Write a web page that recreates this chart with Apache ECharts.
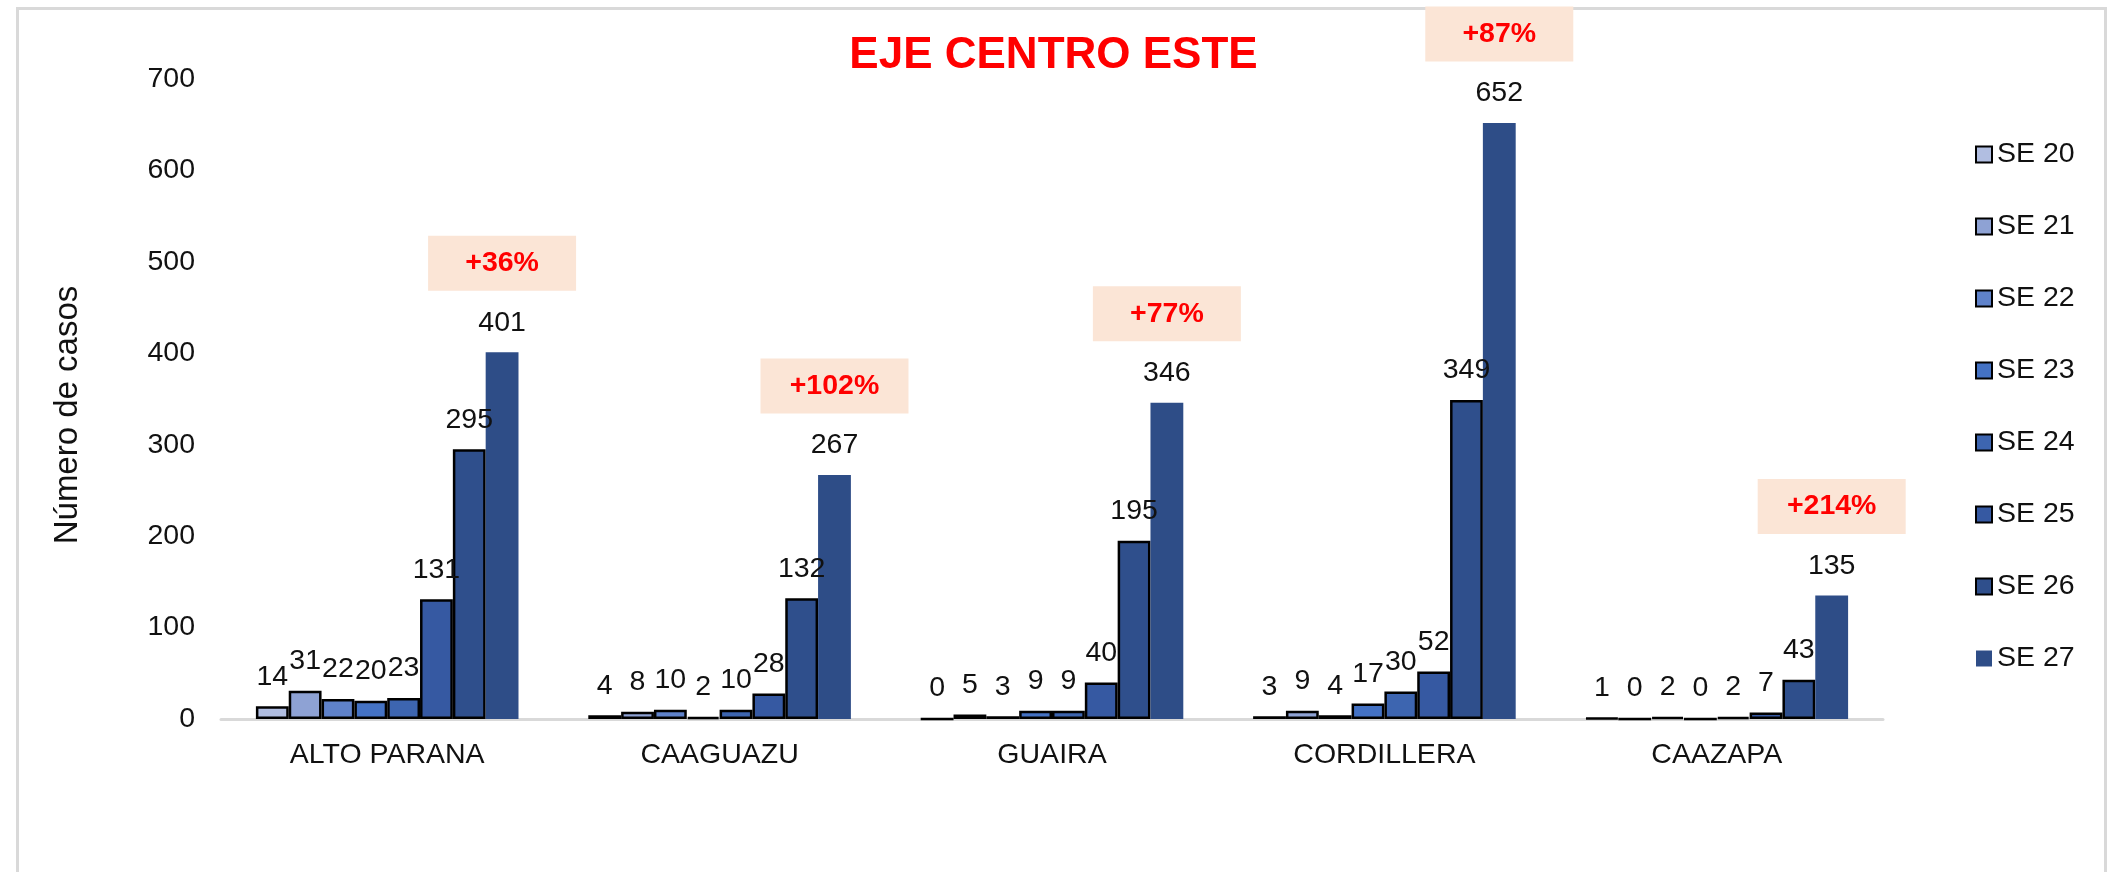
<!DOCTYPE html>
<html>
<head>
<meta charset="utf-8">
<title>EJE CENTRO ESTE</title>
<script src="https://cdn.jsdelivr.net/npm/echarts@6/dist/echarts.min.js"></script>
<style>
  html, body { margin: 0; padding: 0; background: #fff; }
  #chart { width: 2107px; height: 872px; }
</style>
</head>
<body>
<div id="chart"></div>
<script>
  // departamentos
  const categories = ['ALTO PARANA', 'CAAGUAZU', 'GUAIRA', 'CORDILLERA', 'CAAZAPA']
  // semanas epidemiologicas
  const weeks = ['SE 20', 'SE 21', 'SE 22', 'SE 23', 'SE 24', 'SE 25', 'SE 26', 'SE 27']
  const se20 = [14, 4, 0, 3, 1]
  const se21 = [31, 8, 5, 9, 0]
  const se22 = [22, 10, 3, 4, 2]
  const se23 = [20, 2, 9, 17, 0]
  const se24 = [23, 10, 9, 30, 2]
  const se25 = [131, 28, 40, 52, 7]
  const se26 = [295, 132, 195, 349, 43]
  const se27 = [401, 267, 346, 652, 135]
  // variacion SE 26 -> SE 27
  const changeLabels = ['+36%', '+102%', '+77%', '+87%', '+214%']
  const yTicks = [0, 100, 200, 300, 400, 500, 600, 700]

  const weekValues = [se20, se21, se22, se23, se24, se25, se26, se27]
  const colors = ['#B1BEE1', '#8EA2D4', '#5F82CA', '#4472C4', '#3D65B0', '#3659A2', '#2F4F8C', '#2E4D87']
  const font = "'Liberation Sans', Arial, sans-serif"

  const chart = echarts.init(document.getElementById('chart'))

  const series = weeks.map((name, i) => {
    const last = i === weeks.length - 1
    const s = {
      name: name,
      type: 'bar',
      data: weekValues[i],
      barGap: '0%',
      barCategoryGap: '21%',
      itemStyle: {
        color: colors[i],
        borderColor: '#000',
        borderWidth: last ? 0 : 2.5
      },
      label: {
        show: true,
        position: 'top',
        distance: 15,
        color: '#111',
        fontSize: 28.5,
        fontFamily: font
      }
    }
    if (last) {
      // cajas con el % de aumento sobre la barra SE 27
      s.markPoint = {
        symbol: 'rect',
        symbolSize: [148, 55],
        symbolOffset: [0, -89],
        itemStyle: { color: '#FBE5D6' },
        label: {
          show: true,
          position: 'inside',
          color: '#FF0000',
          fontWeight: 'bold',
          fontSize: 28.5,
          fontFamily: font,
          formatter: p => p.name
        },
        data: categories.map((c, k) => ({ name: changeLabels[k], coord: [c, se27[k]] }))
      }
    }
    return s
  })

  chart.setOption({
    animation: false,
    backgroundColor: '#fff',
    graphic: [{
      type: 'rect',
      left: 15,
      top: 6,
      shape: { width: 2088, height: 900 },
      style: { fill: 'none', stroke: '#D9D9D9', lineWidth: 3 }
    }],
    title: {
      text: 'EJE CENTRO ESTE',
      left: 'center',
      top: 34,
      padding: 0,
      textStyle: { color: '#FF0000', fontSize: 44, fontWeight: 'bold', fontFamily: font }
    },
    legend: {
      orient: 'vertical',
      left: 1975,
      top: 140,
      padding: 0,
      icon: 'rect',
      itemWidth: 16,
      itemHeight: 16,
      itemGap: 43,
      data: weeks,
      textStyle: { color: '#111', fontSize: 28.5, lineHeight: 28, fontFamily: font }
    },
    grid: { left: 221, right: 224, top: 79, bottom: 153 },
    xAxis: {
      type: 'category',
      data: categories,
      axisLine: { lineStyle: { color: '#D9D9D9', width: 3 } },
      axisTick: { show: false },
      axisLabel: { color: '#111', fontSize: 28.5, margin: 22, fontFamily: font }
    },
    yAxis: {
      type: 'value',
      min: yTicks[0],
      max: yTicks[yTicks.length - 1],
      interval: yTicks[1] - yTicks[0],
      name: 'Número de casos',
      nameLocation: 'middle',
      nameGap: 137,
      nameTextStyle: { color: '#111', fontSize: 33, fontFamily: font, padding: [0, 32, 0, 0] },
      splitLine: { show: false },
      axisLine: { show: false },
      axisTick: { show: false },
      axisLabel: { color: '#111', fontSize: 28.5, margin: 26, fontFamily: font }
    },
    series: series
  })
</script>
</body>
</html>
